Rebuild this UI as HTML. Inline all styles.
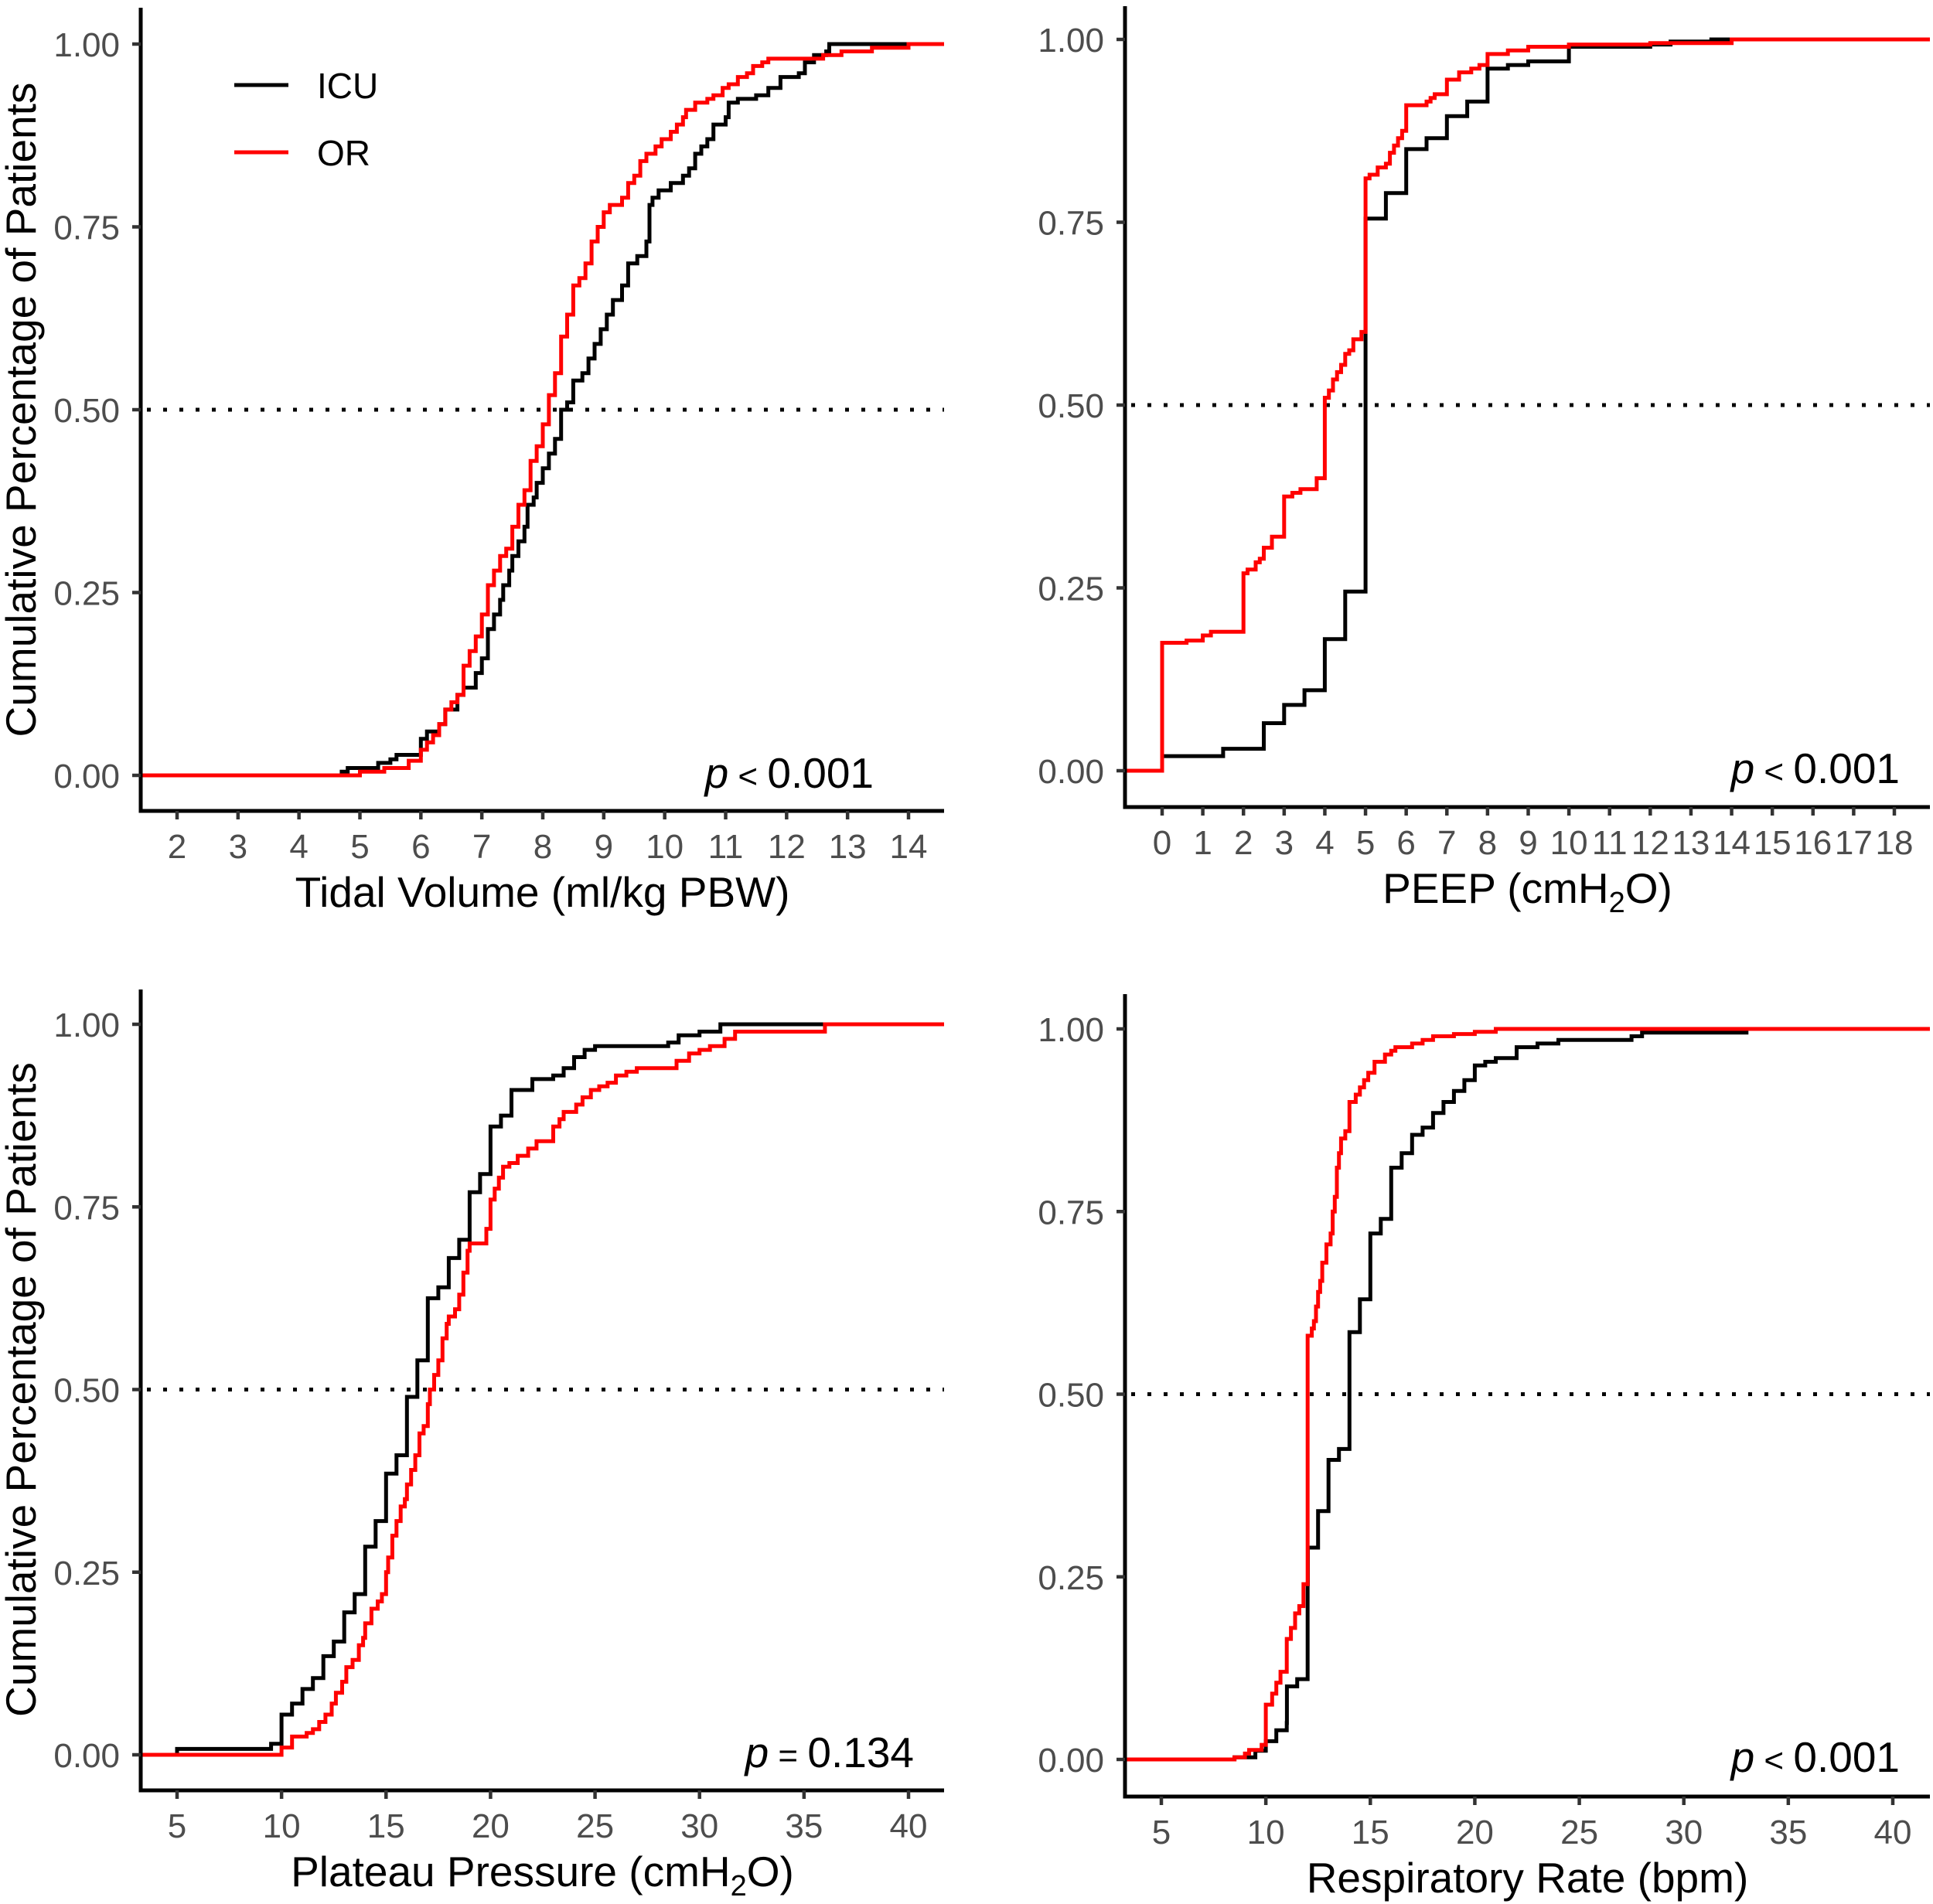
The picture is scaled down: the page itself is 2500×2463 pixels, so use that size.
<!DOCTYPE html>
<html><head><meta charset="utf-8"><style>
html,body{margin:0;padding:0;background:#fff;}
svg{display:block;font-family:"Liberation Sans",Arial,sans-serif;}
</style></head><body>
<svg id="fig" width="2500" height="2463" viewBox="0 0 2500 2463" xmlns="http://www.w3.org/2000/svg"></svg>
<script>
// ---- Panel 1: Tidal volume ----
const tvTicks = [2,3,4,5,6,7,8,9,10,11,12,13,14];
const tvIcuX = [4.7,4.8,5.3,5.5,5.6,6.0,6.1,6.3,6.4,6.6,6.7,6.9,7.0,7.1,7.2,7.3,7.35,7.45,7.5,7.6,7.7,7.75,7.85,7.9,8.0,8.1,8.2,8.3,8.4,8.5,8.65,8.75,8.85,8.95,9.05,9.15,9.3,9.4,9.55,9.7,9.75,9.8,9.9,10.1,10.3,10.4,10.5,10.6,10.7,10.8,11.0,11.05,11.2,11.5,11.7,11.9,12.2,12.3,12.45,12.65,12.7];
const tvIcuY = [0.005,0.01,0.017,0.022,0.028,0.05,0.06,0.07,0.09,0.11,0.12,0.14,0.16,0.2,0.22,0.24,0.26,0.28,0.3,0.32,0.34,0.37,0.38,0.40,0.42,0.44,0.46,0.50,0.51,0.54,0.55,0.57,0.59,0.61,0.63,0.65,0.67,0.70,0.71,0.73,0.78,0.79,0.80,0.81,0.82,0.83,0.85,0.86,0.87,0.89,0.90,0.92,0.925,0.93,0.94,0.955,0.96,0.975,0.985,0.99,1.0];
const tvOrX = [5.0,5.4,5.8,6.0,6.1,6.2,6.3,6.4,6.5,6.6,6.7,6.8,6.9,7.0,7.1,7.2,7.3,7.4,7.5,7.6,7.7,7.8,7.9,8.0,8.1,8.2,8.3,8.4,8.5,8.6,8.7,8.8,8.9,9.0,9.1,9.3,9.4,9.5,9.6,9.7,9.85,9.95,10.1,10.2,10.3,10.35,10.5,10.7,10.8,10.95,11.05,11.2,11.35,11.45,11.6,11.7,12.6,12.9,13.4,14.0];
const tvOrY = [0.005,0.01,0.02,0.035,0.045,0.055,0.07,0.09,0.1,0.11,0.15,0.17,0.19,0.22,0.26,0.28,0.30,0.31,0.34,0.37,0.39,0.43,0.45,0.48,0.52,0.55,0.6,0.63,0.67,0.68,0.7,0.73,0.75,0.77,0.78,0.79,0.81,0.82,0.84,0.85,0.86,0.87,0.88,0.89,0.9,0.91,0.92,0.925,0.93,0.94,0.945,0.955,0.96,0.97,0.975,0.98,0.985,0.99,0.995,1.0];

// ---- Panel 2: PEEP ----
const peepTicks = [0,1,2,3,4,5,6,7,8,9,10,11,12,13,14,15,16,17,18];
const peepIcuX = [0,1.5,2.5,3.0,3.5,4.0,4.5,5.0,5.5,6.0,6.5,7.0,7.5,8.0,8.5,9.0,10.0,12.0,12.5,13.5];
const peepIcuY = [0.02,0.03,0.065,0.09,0.11,0.18,0.245,0.755,0.79,0.85,0.865,0.895,0.915,0.96,0.965,0.97,0.99,0.993,0.997,1.0];
const peepOrX = [0,0.6,1.0,1.2,2.0,2.1,2.3,2.4,2.5,2.7,3.0,3.2,3.4,3.8,4.0,4.1,4.2,4.3,4.4,4.5,4.6,4.7,4.9,5.0,5.1,5.3,5.5,5.6,5.7,5.8,5.9,6.0,6.5,6.6,6.7,7.0,7.3,7.6,7.8,8.0,8.5,9.0,10.0,12.0,14.0];
const peepOrY = [0.175,0.178,0.185,0.19,0.27,0.275,0.285,0.29,0.305,0.32,0.375,0.38,0.385,0.4,0.51,0.52,0.535,0.545,0.555,0.57,0.575,0.59,0.6,0.81,0.815,0.825,0.83,0.845,0.855,0.865,0.875,0.91,0.915,0.92,0.925,0.945,0.955,0.96,0.965,0.98,0.985,0.99,0.993,0.995,1.0];

// ---- Panel 3: Plateau pressure ----
const ppTicks = [5,10,15,20,25,30,35,40];
const ppIcuX = [5,9.5,10,10.5,11,11.5,12,12.5,13,13.5,14,14.5,15,15.5,16,16.5,17,17.5,18,18.5,19,19.5,20,20.5,21,22,23,23.5,24,24.5,25,28.5,29,30,31];
const ppIcuY = [0.008,0.015,0.055,0.07,0.09,0.105,0.135,0.155,0.195,0.22,0.285,0.32,0.385,0.41,0.49,0.54,0.625,0.64,0.68,0.705,0.77,0.795,0.86,0.875,0.91,0.925,0.93,0.94,0.955,0.965,0.97,0.975,0.985,0.99,1.0];
const ppOrX = [10,10.5,11.2,11.5,11.8,12.1,12.4,12.6,12.9,13.1,13.4,13.7,13.9,14.0,14.3,14.6,14.8,15.0,15.1,15.3,15.5,15.7,15.9,16.0,16.2,16.4,16.6,16.8,17.0,17.1,17.3,17.5,17.7,17.9,18.0,18.3,18.5,18.7,18.9,19.0,19.8,20.0,20.2,20.4,20.6,20.9,21.3,21.8,22.2,23.0,23.3,23.5,24.1,24.4,24.8,25.2,25.6,26.0,26.5,27.0,28.9,29.5,30,30.5,31.2,31.7,36];
const ppOrY = [0.01,0.025,0.03,0.035,0.045,0.055,0.07,0.085,0.1,0.12,0.13,0.15,0.16,0.18,0.2,0.21,0.22,0.25,0.27,0.3,0.32,0.34,0.35,0.37,0.39,0.41,0.44,0.45,0.48,0.5,0.52,0.54,0.57,0.59,0.6,0.61,0.63,0.66,0.69,0.7,0.72,0.76,0.775,0.79,0.805,0.81,0.82,0.83,0.84,0.86,0.87,0.88,0.89,0.9,0.91,0.915,0.92,0.93,0.935,0.94,0.95,0.96,0.965,0.97,0.98,0.99,1.0];

// ---- Panel 4: Respiratory rate ----
const rrTicks = [5,10,15,20,25,30,35,40];
const rrIcuX = [8.5,9.5,10,10.5,11,11.01,11.5,12,12.01,12.5,13,13.5,14,14.5,15,15.5,16,16.5,17,17.5,18,18.5,19,19.5,20,20.5,21,22,23,24,27.5,28,33];
const rrIcuY = [0.003,0.012,0.025,0.04,0.05,0.1,0.11,0.24,0.29,0.34,0.41,0.425,0.585,0.63,0.72,0.74,0.81,0.83,0.855,0.865,0.885,0.9,0.915,0.93,0.95,0.955,0.96,0.975,0.98,0.985,0.99,0.995,1.0];
const rrOrX = [8.5,9.0,9.2,9.8,10,10.3,10.5,10.7,11.0,11.2,11.4,11.6,11.8,12.0,12.2,12.3,12.4,12.5,12.6,12.7,12.9,13.1,13.2,13.3,13.4,13.5,13.6,13.8,14.0,14.3,14.5,14.7,14.9,15.2,15.7,16.0,16.2,17.0,17.5,18.0,19.0,20.0,21.0];
const rrOrY = [0.003,0.008,0.013,0.02,0.075,0.09,0.105,0.12,0.165,0.18,0.2,0.21,0.24,0.58,0.59,0.6,0.62,0.64,0.655,0.68,0.705,0.72,0.75,0.77,0.81,0.83,0.85,0.86,0.9,0.91,0.92,0.93,0.94,0.955,0.965,0.97,0.975,0.98,0.985,0.99,0.993,0.996,1.0];

const yTicks = [0,0.25,0.5,0.75,1];
const yTickLabels = ["0.00","0.25","0.50","0.75","1.00"];

const NS = "http://www.w3.org/2000/svg";
const svg = document.getElementById('fig');
function mk(tag, attrs, parent){
  const e = document.createElementNS(NS, tag);
  for (const k in attrs) e.setAttribute(k, attrs[k]);
  (parent||svg).appendChild(e);
  return e;
}

function panel(cfg){
  const g = mk('g', {});
  
  
  const xs = v => cfg.x0px + (v - cfg.x0v) * (cfg.x1px - cfg.x0px) / (cfg.x1v - cfg.x0v);
  const ys = v => cfg.y0px - v * (cfg.y0px - cfg.y1px);
  const L = cfg.axisX, R = cfg.right;
  const med = mk('line', {x1:L+8, x2:R, y1:ys(0.5), y2:ys(0.5), stroke:'#000', 'stroke-width':5, 'stroke-dasharray':'5 16'}, g);
  
  
  function series(xArr, yArr, color, nm){
    let d = 'M' + L + ',' + ys(0);
    let prevY = 0;
    for (let i = 0; i < xArr.length; i++){
      const px = xs(xArr[i]);
      d += ' L' + px.toFixed(1) + ',' + ys(prevY).toFixed(1) + ' L' + px.toFixed(1) + ',' + ys(yArr[i]).toFixed(1);
      prevY = yArr[i];
    }
    d += ' L' + R + ',' + ys(prevY).toFixed(1);
    const p = mk('path', {d:d, fill:'none', stroke:color, 'stroke-width':5, 'stroke-linejoin':'miter'}, g);
    
    
  }
  series(cfg.icuX, cfg.icuY, '#000', 'icu-ecdf-line');
  series(cfg.orX, cfg.orY, '#ff0000', 'or-ecdf-line');
  const ya = mk('line', {x1:L, x2:L, y1:cfg.axisTop, y2:cfg.axisY+2.5, stroke:'#000', 'stroke-width':5}, g);
  
  
  const xa = mk('line', {x1:L-2.5, x2:R, y1:cfg.axisY, y2:cfg.axisY, stroke:'#000', 'stroke-width':5}, g);
  
  
  yTicks.forEach((t, i) => {
    const tk = mk('line', {x1:L-11, x2:L, y1:ys(t), y2:ys(t), stroke:'#333', 'stroke-width':4.5}, g);
    
    
    const tx = mk('text', {x:L-27, y:ys(t)+16, 'text-anchor':'end', 'font-size':44, fill:'#4d4d4d'}, g);
    tx.textContent = yTickLabels[i];
    
    
  });
  cfg.ticks.forEach(t => {
    const tk = mk('line', {x1:xs(t), x2:xs(t), y1:cfg.axisY, y2:cfg.axisY+11, stroke:'#333', 'stroke-width':4.5}, g);
    
    
    const tx = mk('text', {x:xs(t), y:cfg.axisY+61, 'text-anchor':'middle', 'font-size':44, fill:'#4d4d4d'}, g);
    tx.textContent = String(t);
    
    
  });
  const xt = mk('text', {x:(L+R)/2, y:cfg.axisY+124, 'text-anchor':'middle', 'font-size':55, fill:'#000'}, g);
  xt.innerHTML = cfg.xtitle;
  
  
  const pv = mk('text', {x:cfg.pX, y:ys(0)+16, 'text-anchor':'end', 'font-size':55, fill:'#000'}, g);
  pv.innerHTML = '<tspan font-style="italic">p</tspan><tspan font-size="44"> ' + cfg.pOp + ' </tspan>' + cfg.pVal;
  
  
  if (cfg.ytitle){
    const cy = (cfg.y0px + cfg.y1px)/2;
    const yt = mk('text', {x:0, y:0, transform:'translate(46,'+cy+') rotate(-90)', 'text-anchor':'middle', 'font-size':55, fill:'#000'}, g);
    yt.textContent = 'Cumulative Percentage of Patients';
    
    
  }
}

panel({name:'tidal-volume-panel', axisX:182, right:1221, axisTop:10, axisY:1049, y1px:57, y0px:1003,
  x0v:2, x1v:14, x0px:229, x1px:1175, ticks:tvTicks, icuX:tvIcuX, icuY:tvIcuY, orX:tvOrX, orY:tvOrY,
  xtitle:'Tidal Volume (ml/kg PBW)', pX:1130, pOp:'&lt;', pVal:'0.001', ytitle:true});
panel({name:'peep-panel', axisX:1455, right:2496, axisTop:8, axisY:1044, y1px:51, y0px:997,
  x0v:0, x1v:18, x0px:1503, x1px:2450, ticks:peepTicks, icuX:peepIcuX, icuY:peepIcuY, orX:peepOrX, orY:peepOrY,
  xtitle:'PEEP (cmH<tspan font-size="38" dy="12">2</tspan><tspan dy="-12">O)</tspan>', pX:2457, pOp:'&lt;', pVal:'0.001', ytitle:false});
panel({name:'plateau-pressure-panel', axisX:182, right:1221, axisTop:1280, axisY:2316, y1px:1325, y0px:2270,
  x0v:5, x1v:40, x0px:229, x1px:1175, ticks:ppTicks, icuX:ppIcuX, icuY:ppIcuY, orX:ppOrX, orY:ppOrY,
  xtitle:'Plateau Pressure (cmH<tspan font-size="38" dy="12">2</tspan><tspan dy="-12">O)</tspan>', pX:1182, pOp:'=', pVal:'0.134', ytitle:true});
panel({name:'respiratory-rate-panel', axisX:1455, right:2496, axisTop:1286, axisY:2324, y1px:1331, y0px:2276,
  x0v:5, x1v:40, x0px:1502, x1px:2448, ticks:rrTicks, icuX:rrIcuX, icuY:rrIcuY, orX:rrOrX, orY:rrOrY,
  xtitle:'Respiratory Rate (bpm)', pX:2457, pOp:'&lt;', pVal:'0.001', ytitle:false});

const lg = mk('g', {});


const legendLabels = ['ICU','OR'];
const legendColors = ['#000','#ff0000'];
legendLabels.forEach((lab, i) => {
  const y = 110 + i*87;
  const ln = mk('line', {x1:303, x2:373, y1:y, y2:y, stroke:legendColors[i], 'stroke-width':5}, lg);
  
  
  const t = mk('text', {x:410, y:y+17, 'font-size':46, fill:'#000'}, lg);
  t.textContent = lab;
  
  
});
</script>
</body></html>
